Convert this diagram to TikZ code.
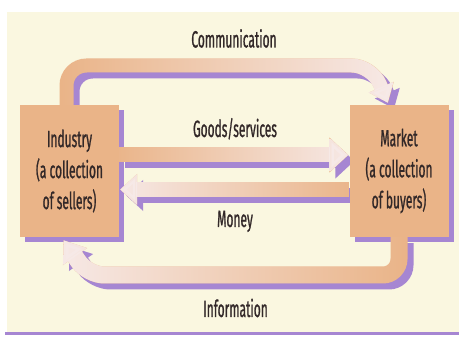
\documentclass[tikz,border=0pt]{standalone}
\usepackage{fontspec}
\newfontfamily\lblfont{Fira Sans}[FakeStretch=0.51, FakeBold=0.9]
\usetikzlibrary{arrows.meta,fadings,shadows}

\definecolor{cream}{RGB}{250,247,224}
\definecolor{boxorange}{RGB}{234,180,136}
\definecolor{lilac}{RGB}{166,134,210}
\definecolor{paleflow}{RGB}{247,234,232}
\definecolor{inkgray}{RGB}{50,40,40}

% pale end of the flows
\tikzfading[name=flow east, left color=transparent!100, middle color=transparent!80, right color=transparent!0]
\tikzfading[name=flow west, left color=transparent!0, middle color=transparent!80, right color=transparent!100]

\pgfdeclarelayer{paper}
\pgfdeclarelayer{shade}
\pgfsetlayers{paper,shade,main}

\begin{document}
\begin{tikzpicture}[x=1pt,y=-1pt]
	\tikzset{
		box/.style={fill=boxorange, minimum width=99pt, minimum height=132pt, inner sep=0pt,
			align=center, text=inkgray, font=\lblfont\fontsize{23.5}{31}\selectfont,
			general shadow={fill=lilac, shadow xshift=5pt, shadow yshift=-5pt}},
		lbl/.style={anchor=base, text=inkgray, font=\lblfont\fontsize{23.5}{26}\selectfont},
		flow/.style={line width=15pt, rounded corners=16pt, -{Triangle[width=34pt,length=19pt]}},
		flowshade/.style={flow, draw=lilac, transform canvas={xshift=6pt,yshift=-6pt}}
	}
	\useasboundingbox (0,0) rectangle (459,344);
	% the paper
	\begin{pgfonlayer}{paper}
		\fill[white] (0,0) rectangle (459,344);
		\fill[cream] (7,12) rectangle (459,332);
		\fill[lilac] (5,332) rectangle (459,335);
	\end{pgfonlayer}

	% the two sides
	\node[box] (ind) at (69.5,171) {Industry\\(a collection\\of sellers)};
	\node[box] (mkt) at (399,171) {Market\\(a collection\\of buyers)};

	% shadows of the flows
	\begin{pgfonlayer}{shade}
		\draw[flowshade, line width=14pt, rounded corners=20pt, -{Triangle[width=26pt,length=17pt]}]
			([xshift=-3pt]ind.north) |- (372,65.5) -- ([shift={(-11pt,2pt)}]mkt.north);
		\draw[flowshade] ([yshift=16pt]ind.east) -- ([shift={(-1pt,16pt)}]mkt.west);
		\draw[flowshade, -{Triangle[width=30pt,length=17pt]}]
			([yshift=-18.5pt]mkt.west) -- ([shift={(1pt,-18.5pt)}]ind.east);
		\draw[flowshade, line width=17pt, -{Triangle[width=28pt,length=20pt]}]
			(mkt.south) |- (88,275) -- ([shift={(-6pt,-3pt)}]ind.south);
	\end{pgfonlayer}

	% communication
	\draw[flow, draw=boxorange, line width=14pt, rounded corners=20pt, -{Triangle[width=26pt,length=17pt]}]
		([xshift=-3pt]ind.north) |- (372,65.5) -- ([shift={(-11pt,2pt)}]mkt.north);
	\draw[flow, draw=paleflow, path fading=flow east, line width=14pt, rounded corners=20pt, -{Triangle[width=26pt,length=17pt]}]
		([xshift=-3pt]ind.north) |- (372,65.5) -- ([shift={(-11pt,2pt)}]mkt.north);
	% goods and services
	\draw[flow, draw=boxorange] ([yshift=16pt]ind.east) -- ([shift={(-1pt,16pt)}]mkt.west);
	\draw[flow, draw=paleflow, path fading=flow east] ([yshift=16pt]ind.east) -- ([shift={(-1pt,16pt)}]mkt.west);
	% money
	\draw[flow, draw=boxorange, -{Triangle[width=30pt,length=17pt]}]
		([yshift=-18.5pt]mkt.west) -- ([shift={(1pt,-18.5pt)}]ind.east);
	\draw[flow, draw=paleflow, path fading=flow west, -{Triangle[width=30pt,length=17pt]}]
		([yshift=-18.5pt]mkt.west) -- ([shift={(1pt,-18.5pt)}]ind.east);
	% information
	\draw[flow, draw=boxorange, line width=17pt, -{Triangle[width=28pt,length=20pt]}]
		(mkt.south) |- (88,275) -- ([shift={(-6pt,-3pt)}]ind.south);
	\draw[flow, draw=paleflow, path fading=flow west, line width=17pt, -{Triangle[width=28pt,length=20pt]}]
		(mkt.south) |- (88,275) -- ([shift={(-6pt,-3pt)}]ind.south);

	% labels on the flows
	\node[lbl] (comm) at (234,47.5) {Communication};
	\node[lbl] (goods) at (235,137) {Goods/services};
	\node[lbl] (money) at (235,227) {Money};
	\node[lbl] (info) at (235.5,317) {Information};
\end{tikzpicture}
\end{document}
